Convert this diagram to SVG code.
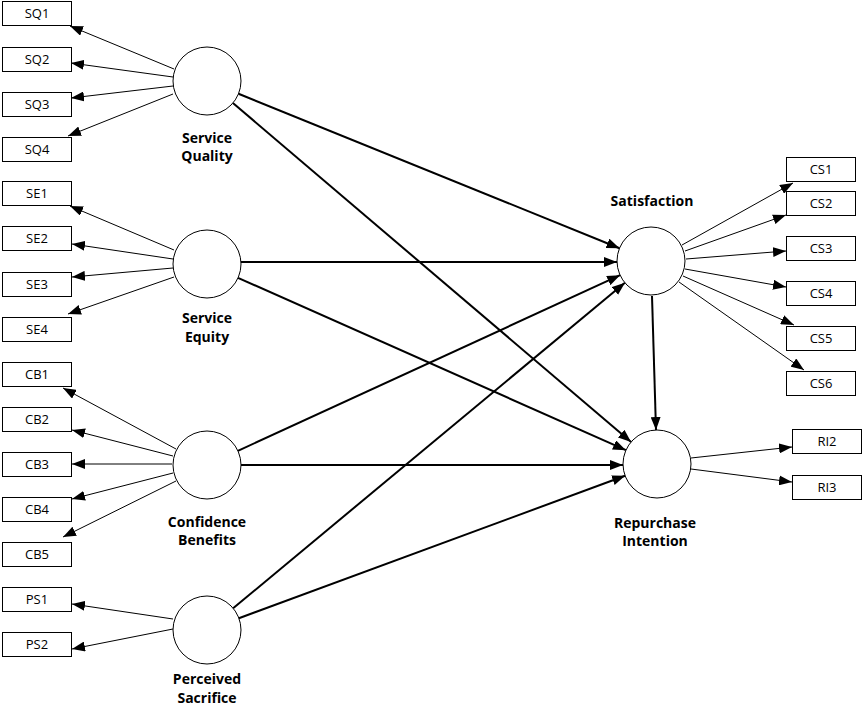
<svg xmlns="http://www.w3.org/2000/svg" width="863" height="709" viewBox="0 0 863 709">
<style>
.b{fill:#fff;stroke:#000;stroke-width:1}
.c{fill:#fff;stroke:#000;stroke-width:1}
.t{font-family:"Open Sans","DejaVu Sans",sans-serif;font-size:13px;text-anchor:middle;fill:#000}
.l{font-family:"Open Sans","DejaVu Sans",sans-serif;font-size:14px;font-weight:bold;text-anchor:middle;fill:#000}
.m{stroke:#000;stroke-width:1;fill:none;marker-end:url(#a)}
.s{stroke:#000;stroke-width:2;fill:none;marker-end:url(#a)}
</style>
<defs>
<marker id="a" markerUnits="userSpaceOnUse" markerWidth="14" markerHeight="10" refX="13" refY="5" orient="auto"><path d="M0,0 L13,5 L0,10 Z" fill="#000"/></marker>
</defs>
<rect width="863" height="709" fill="#fff"/>
<g id="connectors">
<line class="m" x1="174" y1="69" x2="70" y2="26"/>
<line class="m" x1="173" y1="77" x2="71" y2="63"/>
<line class="m" x1="173" y1="86" x2="71" y2="98"/>
<line class="m" x1="173" y1="94" x2="68" y2="136"/>
<line class="m" x1="174" y1="250" x2="70" y2="206"/>
<line class="m" x1="173" y1="259" x2="72" y2="244"/>
<line class="m" x1="173" y1="268" x2="72" y2="277"/>
<line class="m" x1="174" y1="277" x2="68" y2="314"/>
<line class="m" x1="176" y1="449" x2="63" y2="388"/>
<line class="m" x1="173" y1="456" x2="72" y2="430"/>
<line class="m" x1="172" y1="464" x2="72" y2="464"/>
<line class="m" x1="173" y1="473" x2="72" y2="499"/>
<line class="m" x1="176" y1="481" x2="63" y2="537"/>
<line class="m" x1="173" y1="619" x2="72" y2="604"/>
<line class="m" x1="173" y1="629" x2="72" y2="649"/>
<line class="m" x1="682" y1="245" x2="793" y2="183"/>
<line class="m" x1="685" y1="251" x2="786" y2="215"/>
<line class="m" x1="686" y1="259" x2="786" y2="251"/>
<line class="m" x1="685" y1="269" x2="786" y2="287"/>
<line class="m" x1="683" y1="276" x2="794" y2="325"/>
<line class="m" x1="679" y1="282" x2="804" y2="370"/>
<line class="m" x1="691" y1="458" x2="792" y2="447"/>
<line class="m" x1="691" y1="469" x2="792" y2="482"/>
<line class="s" x1="652" y1="296" x2="656" y2="430"/>
<line class="s" x1="238.5" y1="93.8" x2="619.5" y2="248.2"/>
<line class="s" x1="232.9" y1="103" x2="631.1" y2="442"/>
<line class="s" x1="241" y1="262" x2="617" y2="262"/>
<line class="s" x1="238" y1="277.8" x2="625.9" y2="450.2"/>
<line class="s" x1="237.9" y1="450.8" x2="620.1" y2="275.2"/>
<line class="s" x1="241" y1="465" x2="623" y2="465"/>
<line class="s" x1="233.1" y1="608.3" x2="624.9" y2="282.7"/>
<line class="s" x1="238.9" y1="618.2" x2="625.1" y2="475.8"/>
</g>
<g id="SQ"><circle class="c" cx="207" cy="81" r="34"/><text class="l" x="207" y="143">Service</text><text class="l" x="207" y="161">Quality</text></g>
<g id="SE"><circle class="c" cx="207" cy="264" r="34"/><text class="l" x="207" y="323">Service</text><text class="l" x="207" y="342">Equity</text></g>
<g id="CB"><circle class="c" cx="207" cy="465" r="34"/><text class="l" x="207" y="527">Confidence</text><text class="l" x="207" y="545">Benefits</text></g>
<g id="PS"><circle class="c" cx="207" cy="630" r="34"/><text class="l" x="207" y="684">Perceived</text><text class="l" x="207" y="703">Sacrifice</text></g>
<g id="SAT"><circle class="c" cx="651" cy="261" r="34"/><text class="l" x="652" y="206">Satisfaction</text></g>
<g id="RI"><circle class="c" cx="657" cy="464" r="34"/><text class="l" x="655" y="528">Repurchase</text><text class="l" x="655" y="546">Intention</text></g>
<g id="SQ1"><rect class="b" x="2.5" y="1.5" width="69" height="24"/><text class="t" x="37" y="18">SQ1</text></g>
<g id="SQ2"><rect class="b" x="2.5" y="47.5" width="69" height="24"/><text class="t" x="37" y="64">SQ2</text></g>
<g id="SQ3"><rect class="b" x="2.5" y="92.5" width="69" height="24"/><text class="t" x="37" y="109">SQ3</text></g>
<g id="SQ4"><rect class="b" x="2.5" y="137.5" width="69" height="24"/><text class="t" x="37" y="154">SQ4</text></g>
<g id="SE1"><rect class="b" x="2.5" y="181.5" width="69" height="24"/><text class="t" x="37" y="198">SE1</text></g>
<g id="SE2"><rect class="b" x="2.5" y="226.5" width="69" height="24"/><text class="t" x="37" y="243">SE2</text></g>
<g id="SE3"><rect class="b" x="2.5" y="272.5" width="69" height="24"/><text class="t" x="37" y="289">SE3</text></g>
<g id="SE4"><rect class="b" x="2.5" y="317.5" width="69" height="24"/><text class="t" x="37" y="334">SE4</text></g>
<g id="CB1"><rect class="b" x="2.5" y="362.5" width="69" height="24"/><text class="t" x="37" y="379">CB1</text></g>
<g id="CB2"><rect class="b" x="2.5" y="407.5" width="69" height="24"/><text class="t" x="37" y="424">CB2</text></g>
<g id="CB3"><rect class="b" x="2.5" y="452.5" width="69" height="24"/><text class="t" x="37" y="469">CB3</text></g>
<g id="CB4"><rect class="b" x="2.5" y="497.5" width="69" height="24"/><text class="t" x="37" y="514">CB4</text></g>
<g id="CB5"><rect class="b" x="2.5" y="542.5" width="69" height="24"/><text class="t" x="37" y="559">CB5</text></g>
<g id="PS1"><rect class="b" x="2.5" y="587.5" width="69" height="24"/><text class="t" x="37" y="604">PS1</text></g>
<g id="PS2"><rect class="b" x="2.5" y="632.5" width="69" height="24"/><text class="t" x="37" y="649">PS2</text></g>
<g id="CS1"><rect class="b" x="786.5" y="157.5" width="69" height="24"/><text class="t" x="821" y="174">CS1</text></g>
<g id="CS2"><rect class="b" x="786.5" y="191.5" width="69" height="24"/><text class="t" x="821" y="208">CS2</text></g>
<g id="CS3"><rect class="b" x="786.5" y="236.5" width="69" height="24"/><text class="t" x="821" y="253">CS3</text></g>
<g id="CS4"><rect class="b" x="786.5" y="281.5" width="69" height="24"/><text class="t" x="821" y="298">CS4</text></g>
<g id="CS5"><rect class="b" x="786.5" y="326.5" width="69" height="24"/><text class="t" x="821" y="343">CS5</text></g>
<g id="CS6"><rect class="b" x="786.5" y="371.5" width="69" height="24"/><text class="t" x="821" y="388">CS6</text></g>
<g id="RI2"><rect class="b" x="792.5" y="429.5" width="69" height="24"/><text class="t" x="827" y="446">RI2</text></g>
<g id="RI3"><rect class="b" x="792.5" y="475.5" width="69" height="24"/><text class="t" x="827" y="492">RI3</text></g>
</svg>
